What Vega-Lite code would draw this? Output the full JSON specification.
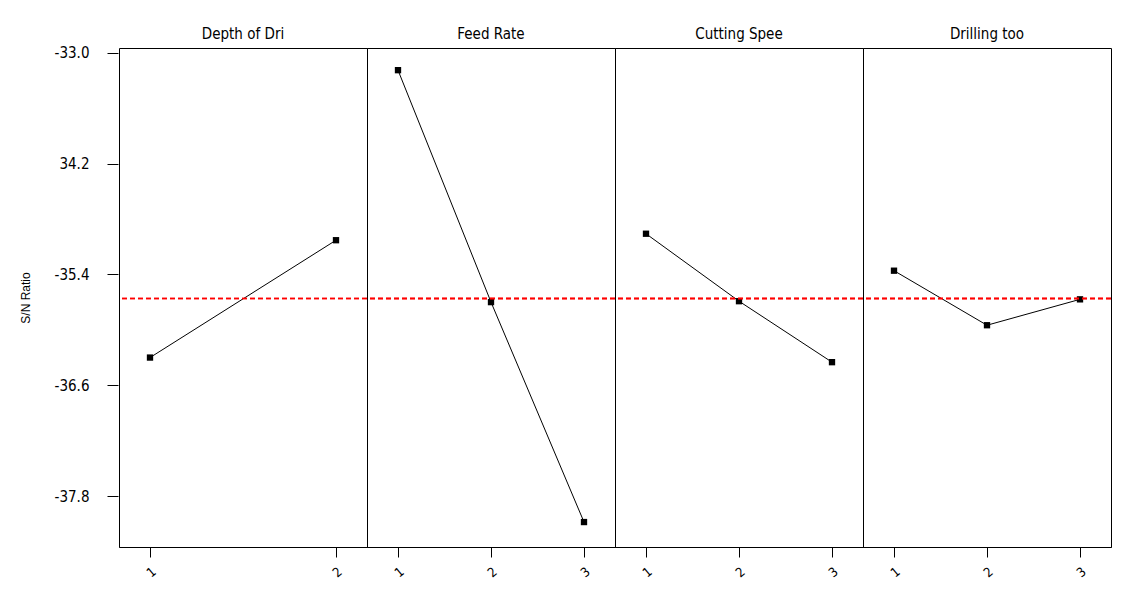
{
  "$schema": "https://vega.github.io/schema/vega-lite/v6.json",
  "autosize": {"type": "pad"},
  "padding": {"left": 19, "top": 27, "right": 5, "bottom": 5},
  "background": "white",
  "data": {
    "values": [
      {"factor": "Depth of Dri", "level": 1, "sn": -36.30},
      {"factor": "Depth of Dri", "level": 2, "sn": -35.03},
      {"factor": "Feed Rate", "level": 1, "sn": -33.19},
      {"factor": "Feed Rate", "level": 2, "sn": -35.70},
      {"factor": "Feed Rate", "level": 3, "sn": -38.08},
      {"factor": "Cutting Spee", "level": 1, "sn": -34.96},
      {"factor": "Cutting Spee", "level": 2, "sn": -35.69},
      {"factor": "Cutting Spee", "level": 3, "sn": -36.35},
      {"factor": "Drilling too", "level": 1, "sn": -35.36},
      {"factor": "Drilling too", "level": 2, "sn": -35.95},
      {"factor": "Drilling too", "level": 3, "sn": -35.67}
    ]
  },
  "facet": {
    "column": {
      "field": "factor",
      "type": "nominal",
      "sort": ["Depth of Dri", "Feed Rate", "Cutting Spee", "Drilling too"],
      "header": {
        "title": null,
        "labelFont": "DejaVu Sans Condensed, Liberation Sans",
        "labelFontSize": 15,
        "labelColor": "black",
        "labelPadding": 6
      }
    }
  },
  "spacing": 0,
  "bounds": "flush",
  "resolve": {"scale": {"x": "independent"}, "axis": {"x": "independent"}},
  "spec": {
    "width": 248,
    "height": 499,
    "encoding": {
      "x": {
        "field": "level",
        "type": "quantitative",
        "scale": {"zero": false, "nice": false, "padding": 31},
        "axis": {
          "title": null,
          "tickMinStep": 1,
          "format": "d",
          "labelAngle": -40,
          "grid": false,
          "tickSize": 10,
          "tickColor": "black",
          "domainColor": "black",
          "labelFont": "DejaVu Sans Condensed, Liberation Sans",
          "labelFontSize": 13,
          "labelColor": "black",
          "labelPadding": 8
        }
      },
      "y": {
        "field": "sn",
        "type": "quantitative",
        "scale": {"domain": [-38.35, -32.95], "nice": false, "zero": false},
        "axis": {
          "title": "S/N Ratio",
          "values": [-33.0, -34.2, -35.4, -36.6, -37.8],
          "labelExpr": "datum.value == -34.2 ? '34.2' : replace(format(datum.value, '.1f'), '\u2212', '-')",
          "grid": false,
          "domain": false,
          "tickSize": 11,
          "tickColor": "black",
          "offset": 1,
          "labelFont": "DejaVu Sans Condensed, Liberation Sans",
          "labelFontSize": 15,
          "labelColor": "black",
          "labelPadding": 18,
          "titleFont": "Liberation Sans",
          "titleFontSize": 12,
          "titleFontWeight": "normal",
          "titleColor": "black",
          "titlePadding": 22
        }
      }
    },
    "layer": [
      {"mark": {"type": "line", "color": "black", "strokeWidth": 1}},
      {"mark": {"type": "point", "shape": "square", "filled": true, "color": "black", "size": 40, "opacity": 1}},
      {
        "mark": {"type": "rule", "color": "#ff0000", "strokeDash": [5, 3], "strokeWidth": 1.5},
        "encoding": {"x": null, "y": {"datum": -35.66}}
      }
    ]
  },
  "config": {
    "view": {"stroke": "black", "strokeWidth": 1}
  }
}
